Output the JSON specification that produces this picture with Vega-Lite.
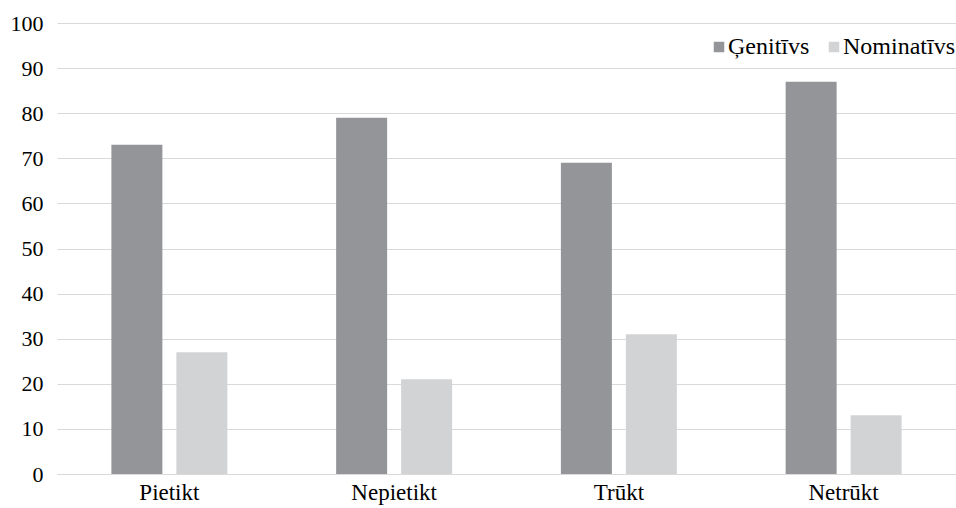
{
  "$schema": "https://vega.github.io/schema/vega-lite/v6.json",
  "width": 899,
  "height": 451,
  "autosize": {"type": "none"},
  "padding": {"left": 57, "top": 23, "right": 0, "bottom": 34},
  "background": "white",
  "config": {
    "view": {"stroke": null},
    "font": "Liberation Serif",
    "axis": {"labelFont": "Liberation Serif"},
    "legend": {"labelFont": "Liberation Serif"}
  },
  "data": {
    "values": [
      {"verbs": "Pietikt", "case": "Ģenitīvs", "value": 73},
      {"verbs": "Pietikt", "case": "Nominatīvs", "value": 27},
      {"verbs": "Nepietikt", "case": "Ģenitīvs", "value": 79},
      {"verbs": "Nepietikt", "case": "Nominatīvs", "value": 21},
      {"verbs": "Trūkt", "case": "Ģenitīvs", "value": 69},
      {"verbs": "Trūkt", "case": "Nominatīvs", "value": 31},
      {"verbs": "Netrūkt", "case": "Ģenitīvs", "value": 87},
      {"verbs": "Netrūkt", "case": "Nominatīvs", "value": 13}
    ]
  },
  "mark": {"type": "bar"},
  "encoding": {
    "x": {
      "field": "verbs", "type": "nominal", "sort": null,
      "scale": {"paddingInner": 0.484, "paddingOuter": 0.242},
      "axis": {"title": null, "labelAngle": 0, "labelFontSize": 23, "labelFont": "Liberation Serif", "labelColor": "#000", "domainColor": "#d9d9d9", "ticks": false, "labelPadding": 7}
    },
    "xOffset": {
      "field": "case", "type": "nominal", "sort": ["Ģenitīvs", "Nominatīvs"],
      "scale": {"domain": ["Ģenitīvs", "Nominatīvs"], "paddingInner": 0.2154, "paddingOuter": 0}
    },
    "y": {
      "field": "value", "type": "quantitative",
      "scale": {"domain": [0, 100]},
      "axis": {"title": null, "values": [0,10,20,30,40,50,60,70,80,90,100], "labelOverlap": false, "labelFontSize": 22, "labelFont": "Liberation Serif", "labelColor": "#000", "domain": false, "ticks": false, "gridColor": "#d9d9d9", "labelPadding": 14}
    },
    "color": {
      "field": "case", "type": "nominal",
      "scale": {"domain": ["Ģenitīvs", "Nominatīvs"], "range": ["#939598", "#d1d3d4"]},
      "legend": {"title": null, "orient": "none", "legendX": 650, "legendY": 12, "direction": "horizontal", "symbolType": "square", "symbolSize": 110, "labelFontSize": 24, "labelFont": "Liberation Serif", "labelColor": "#000", "columnPadding": 12, "labelOffset": -3, "symbolStrokeWidth": 0}
    }
  }
}
